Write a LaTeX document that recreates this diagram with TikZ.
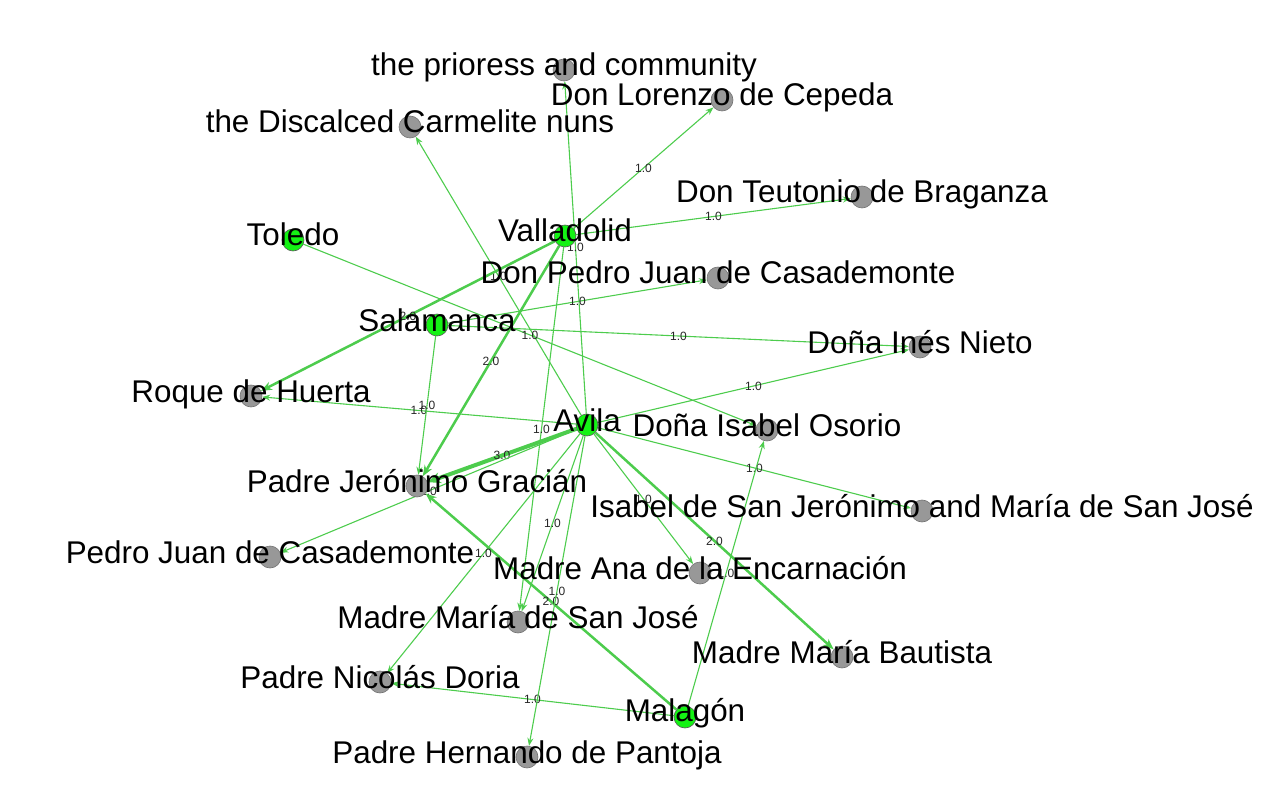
\documentclass[tikz,border=0pt]{standalone}
\usepackage{fontspec}
\setmainfont{Liberation Sans}
\usetikzlibrary{arrows.meta}
\definecolor{edgegreen}{RGB}{77,204,77}
\definecolor{nodegreen}{RGB}{20,242,20}
\definecolor{nodegray}{RGB}{152,152,152}
\pgfdeclarelayer{bg}
\pgfsetlayers{bg,main}
\begin{document}
\begin{tikzpicture}[x=1pt,y=-1pt,
  place/.style={circle,inner sep=0pt,minimum size=22pt,fill=nodegreen,draw=black!65,line width=0.6pt},
  person/.style={circle,inner sep=0pt,minimum size=22pt,fill=nodegray,draw=black!55,line width=0.6pt},
  lbl/.style={anchor=base,inner sep=0pt,font=\fontsize{31.4}{36}\selectfont},
  elab/.style={font=\fontsize{12}{14}\selectfont,text=black!85,inner sep=0pt},
  wone/.style={draw=edgegreen,line width=1.1pt,-{Stealth[length=8pt,width=6pt]}},
  wtwo/.style={draw=edgegreen,line width=2.5pt,-{Stealth[length=11pt,width=8.5pt]}},
  wthree/.style={draw=edgegreen,line width=4pt,-{Stealth[length=13pt,width=11pt]}},
]
\useasboundingbox (0,0) rectangle (1277,794);
% circles
\node[person] (prioress) at (564,70) {};
\node[person] (lorenzo) at (722,100) {};
\node[person] (nuns) at (410,127) {};
\node[person] (teutonio) at (862,197) {};
\node[place] (toledo) at (293,240) {};
\node[place] (valladolid) at (565,236) {};
\node[person] (donpedro) at (718,278) {};
\node[place] (salamanca) at (437,325) {};
\node[person] (ines) at (920,347) {};
\node[person] (roque) at (251,396) {};
\node[place] (avila) at (587,425) {};
\node[person] (osorio) at (767,430) {};
\node[person] (gracian) at (417,486) {};
\node[person] (isabelsj) at (922,511) {};
\node[person] (pedrojuan) at (270,557) {};
\node[person] (ana) at (700,573) {};
\node[person] (mariasj) at (518,622) {};
\node[person] (bautista) at (842,657) {};
\node[person] (doria) at (380,682) {};
\node[place] (malagon) at (685,717) {};
\node[person] (pantoja) at (527,757) {};
% edges
\begin{pgfonlayer}{bg}
\draw[wone] (avila) -- node[elab]{1.0} (nuns);
\draw[wone] (avila) -- node[elab]{1.0} (prioress);
\draw[wone] (valladolid) -- node[elab]{1.0} (lorenzo);
\draw[wone] (valladolid) -- node[elab]{1.0} (teutonio);
\draw[wone] (toledo) -- node[elab]{1.0} (osorio);
\draw[wtwo] (valladolid) -- node[elab]{2.0} (roque);
\draw[wtwo] (valladolid) -- node[elab]{2.0} (gracian);
\draw[wone] (valladolid) -- node[elab]{1.0} (mariasj);
\draw[wone] (salamanca) -- node[elab]{1.0} (donpedro);
\draw[wone] (salamanca) -- node[elab]{1.0} (ines);
\draw[wone] (avila) -- node[elab]{1.0} (ines);
\draw[wone] (avila) -- node[elab]{1.0} (roque);
\draw[wone] (salamanca) -- node[elab]{1.0} (gracian);
\draw[wthree] (avila) -- node[elab]{3.0} (gracian);
\draw[wone] (avila) -- node[elab]{1.0} (pedrojuan);
\draw[wone] (avila) -- node[elab]{1.0} (isabelsj);
\draw[wone] (malagon) -- node[elab]{1.0} (osorio);
\draw[wone] (avila) -- node[elab]{1.0} (ana);
\draw[wtwo] (avila) -- node[elab]{2.0} (bautista);
\draw[wtwo] (malagon) -- node[elab]{2.0} (gracian);
\draw[wone] (malagon) -- node[elab]{1.0} (doria);
\draw[wone] (avila) -- node[elab]{1.0} (doria);
\draw[wone] (avila) -- node[elab]{1.0} (mariasj);
\draw[wone] (avila) -- node[elab]{1.0} (pantoja);
\end{pgfonlayer}
% labels
\node[lbl] (prioress-t) at (564,76) {the prioress and community};
\node[lbl] (lorenzo-t) at (722,106) {Don Lorenzo de Cepeda};
\node[lbl] (nuns-t) at (410,133) {the Discalced Carmelite nuns};
\node[lbl] (teutonio-t) at (862,203) {Don Teutonio de Braganza};
\node[lbl] (toledo-t) at (293,246) {Toledo};
\node[lbl] (valladolid-t) at (565,242) {Valladolid};
\node[lbl] (donpedro-t) at (718,284) {Don Pedro Juan de Casademonte};
\node[lbl] (salamanca-t) at (437,331) {Salamanca};
\node[lbl] (ines-t) at (920,353) {Doña Inés Nieto};
\node[lbl] (roque-t) at (251,402) {Roque de Huerta};
\node[lbl] (avila-t) at (587,431) {Avila};
\node[lbl] (osorio-t) at (767,436) {Doña Isabel Osorio};
\node[lbl] (gracian-t) at (417,492) {Padre Jerónimo Gracián};
\node[lbl] (isabelsj-t) at (922,517) {Isabel de San Jerónimo and María de San José};
\node[lbl] (pedrojuan-t) at (270,563) {Pedro Juan de Casademonte};
\node[lbl] (ana-t) at (700,579) {Madre Ana de la Encarnación};
\node[lbl] (mariasj-t) at (518,628) {Madre María de San José};
\node[lbl] (bautista-t) at (842,663) {Madre María Bautista};
\node[lbl] (doria-t) at (380,688) {Padre Nicolás Doria};
\node[lbl] (malagon-t) at (685,721) {Malagón};
\node[lbl] (pantoja-t) at (527,763) {Padre Hernando de Pantoja};
\end{tikzpicture}
\end{document}
